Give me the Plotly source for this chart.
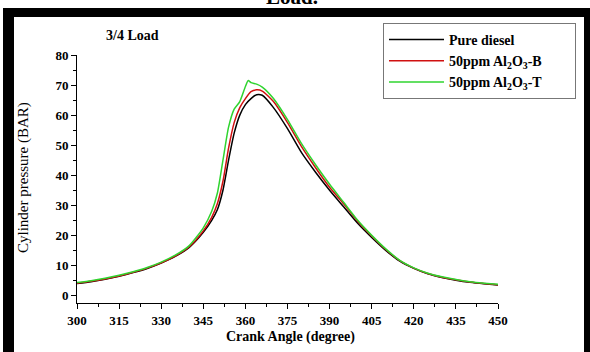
import plotly.graph_objects as go

# ---------------- data ----------------
crank_diesel = [300, 305, 310, 315, 320, 325, 330, 335, 340, 345, 348, 350, 352, 354, 356, 358, 360, 362, 364, 366,
                370, 375, 380, 385, 390, 395, 400, 405, 410, 415, 420, 425, 430, 435, 440, 445, 450]
p_diesel = [4.0, 4.6, 5.4, 6.4, 7.6, 9.0, 10.8, 13.0, 16.0, 21.0, 25.0, 28.5, 35.0, 45.0, 54.0, 60.0, 63.5, 65.5, 66.8, 66.6,
            62.5, 55.5, 47.5, 41.0, 35.0, 29.5, 24.0, 19.3, 15.0, 11.4, 9.0, 7.2, 6.0, 5.1, 4.4, 3.9, 3.5]

crank_b = [300, 305, 310, 315, 320, 325, 330, 335, 340, 345, 348, 350, 352, 354, 356, 358, 360, 362, 364, 366,
           370, 375, 380, 385, 390, 395, 400, 405, 410, 415, 420, 425, 430, 435, 440, 445, 450]
p_b = [4.1, 4.7, 5.5, 6.5, 7.7, 9.1, 10.9, 13.1, 16.2, 21.5, 26.0, 30.5, 38.0, 49.0, 57.5, 62.5, 65.5, 67.8, 68.4, 68.0,
       64.5, 57.5, 49.5, 42.5, 36.0, 30.5, 24.7, 19.8, 15.3, 11.6, 9.1, 7.3, 6.1, 5.2, 4.5, 4.0, 3.6]

crank_t = [300, 305, 310, 315, 320, 325, 330, 335, 340, 345, 348, 350, 352, 354, 356, 358, 360, 361, 362, 364, 366,
           370, 375, 380, 385, 390, 395, 400, 405, 410, 415, 420, 425, 430, 435, 440, 445, 450]
p_t = [4.3, 4.9, 5.7, 6.7, 7.9, 9.3, 11.1, 13.4, 16.6, 22.5, 28.0, 34.0, 45.0, 56.0, 62.0, 64.5, 69.5, 71.5, 70.8, 70.3, 69.3,
       65.5, 58.5, 50.5, 43.5, 37.0, 31.0, 25.0, 20.0, 15.5, 11.7, 9.2, 7.4, 6.2, 5.3, 4.6, 4.1, 3.7]

series_names = ["Pure diesel", "50ppm Al<sub>2</sub>O<sub>3</sub>-B", "50ppm Al<sub>2</sub>O<sub>3</sub>-T"]
series_colors = ["#000000", "#d01010", "#2fd42f"]

x_ticks = [300, 315, 330, 345, 360, 375, 390, 405, 420, 435, 450]
y_ticks = [0, 10, 20, 30, 40, 50, 60, 70, 80]

# ---------------- layout helpers ----------------
W, H = 590, 352
ML, MR, MT, MB = 77, 92, 55, 49
PW, PH = W - ML - MR, H - MT - MB


def px(x):
    return (x - ML) / PW


def py(y):
    return (H - MB - y) / PH


FONT = "Times New Roman, Liberation Serif, serif"
PAD = "&nbsp;" * 8

fig = go.Figure()
for xs, ys, name, col in zip([crank_diesel, crank_b, crank_t], [p_diesel, p_b, p_t], series_names, series_colors):
    fig.add_trace(go.Scatter(x=xs, y=ys, mode="lines", name="<b>" + name + "</b>" + PAD,
                             line=dict(color=col, width=1.5, shape="spline", smoothing=0.6)))

axis_common = dict(showline=True, linecolor="black", linewidth=1, ticks="outside", ticklen=5,
                   tickcolor="black", showgrid=False, zeroline=False,
                   tickfont=dict(family=FONT, size=13, color="black"))

fig.update_xaxes(range=[300, 450], tickvals=x_ticks, ticktext=["<b>%d</b>" % v for v in x_ticks],
                 minor=dict(ticks="outside", ticklen=3, dtick=7.5, tick0=300, tickcolor="black"),
                 **axis_common)
fig.update_yaxes(range=[-2.5, 80], tickvals=y_ticks, ticktext=["<b>%d</b>" % v for v in y_ticks],
                 minor=dict(ticks="outside", ticklen=3, dtick=5, tick0=0, tickcolor="black"),
                 **axis_common)

shapes = [
    # black frame: top, left, right
    dict(type="rect", xref="paper", yref="paper", x0=px(3), x1=px(590), y0=py(17), y1=py(8),
         fillcolor="black", line=dict(width=0), layer="above"),
    dict(type="rect", xref="paper", yref="paper", x0=px(3), x1=px(14), y0=py(352), y1=py(8),
         fillcolor="black", line=dict(width=0), layer="above"),
    dict(type="rect", xref="paper", yref="paper", x0=px(584), x1=px(590), y0=py(352), y1=py(8),
         fillcolor="black", line=dict(width=0), layer="above"),
]

annotations = [
    dict(text="<b>Load.</b>", xref="paper", yref="paper", x=px(292), y=py(11), xanchor="center",
         yanchor="bottom", showarrow=False, font=dict(family=FONT, size=21, color="black")),
    dict(text="<b>3/4 Load</b>", xref="paper", yref="paper", x=px(132), y=py(35), xanchor="center",
         yanchor="middle", showarrow=False, font=dict(family=FONT, size=14, color="black")),
    dict(text="<b>Crank Angle (degree)</b>", xref="paper", yref="paper", x=px(290), y=py(337),
         xanchor="center", yanchor="middle", showarrow=False, font=dict(family=FONT, size=14, color="black")),
    dict(text="Cylinder pressure (BAR)", xref="paper", yref="paper", x=px(23), y=py(177), textangle=-90,
         xanchor="center", yanchor="middle", showarrow=False, font=dict(family=FONT, size=15, color="black")),
]

fig.update_layout(
    width=W, height=H,
    margin=dict(l=ML, r=MR, t=MT, b=MB, pad=0, autoexpand=False),
    paper_bgcolor="white", plot_bgcolor="white",
    shapes=shapes, annotations=annotations,
    showlegend=True,
    legend=dict(x=px(383), y=py(23), xanchor="left", yanchor="top",
                bordercolor="#777777", borderwidth=1, bgcolor="white",
                font=dict(family=FONT, size=14, color="black"),
                itemwidth=55, tracegroupgap=0),
)

fig.write_html("out.html")
